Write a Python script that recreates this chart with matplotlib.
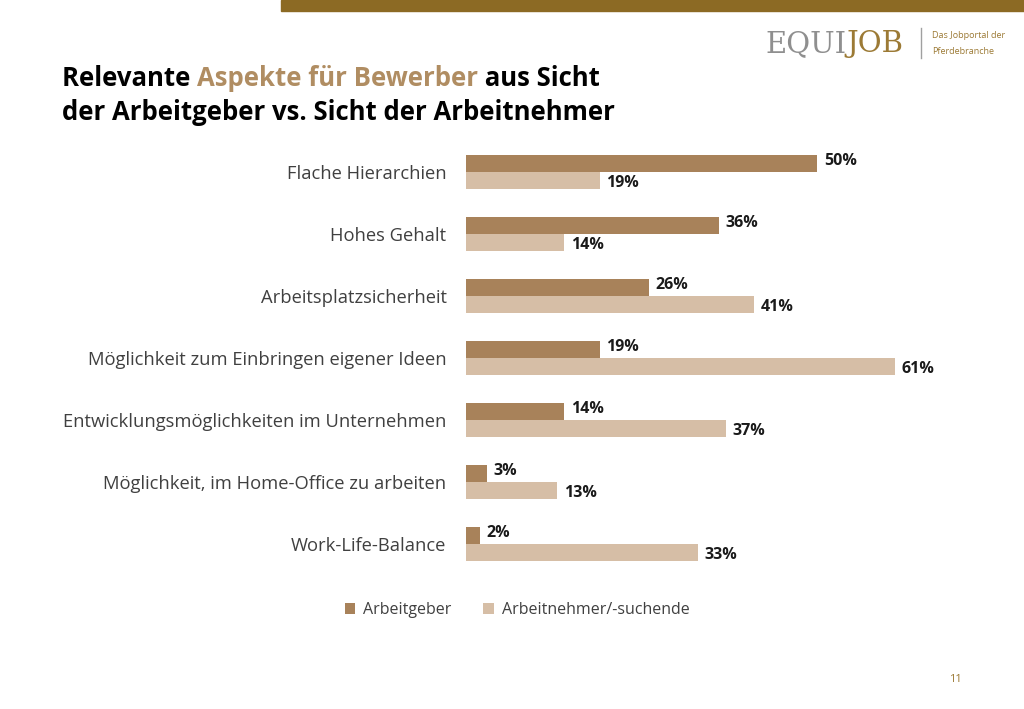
import matplotlib.pyplot as plt
from matplotlib.patches import Rectangle

categories = ['Flache Hierarchien', 'Hohes Gehalt', 'Arbeitsplatzsicherheit',
              'Möglichkeit zum Einbringen eigener Ideen',
              'Entwicklungsmöglichkeiten im Unternehmen',
              'Möglichkeit, im Home-Office zu arbeiten', 'Work-Life-Balance']
arbeitgeber = [50, 36, 26, 19, 14, 3, 2]
arbeitnehmer = [19, 14, 41, 61, 37, 13, 33]
series_names = ['Arbeitgeber', 'Arbeitnehmer/-suchende']

dark = '#A8825A'
light = '#D6BEA6'
gold = '#8C6A24'
font = 'Open Sans'

W, H = 1024, 709
fig = plt.figure(figsize=(W / 100, H / 100), dpi=100)
r = fig.canvas.get_renderer()

# top stripe
fig.patches.append(Rectangle((281 / W, 1 - 11 / H), 1 - 281 / W, 11 / H,
                             transform=fig.transFigure, color=gold, zorder=0))

# logo
l1 = fig.text(765 / W, 1 - 44 / H, 'EQUI', family='DejaVu Serif', fontsize=21,
              color='#8F8F8F', va='center', ha='left')
x = l1.get_window_extent(r).x1
fig.text(x / W, 1 - 44 / H, 'JOB', family='DejaVu Serif', fontsize=21,
         color='#9C7A35', va='center', ha='left')
fig.add_artist(plt.Line2D([921 / W, 921 / W], [1 - 28 / H, 1 - 58 / H],
                          color='#A0A0A0', lw=1))
fig.text(932 / W, 1 - 35 / H, 'Das Jobportal der', family=font, fontsize=6.5,
         color='#9C7A35', va='center')
fig.text(932 / W, 1 - 51 / H, 'Pferdebranche', family=font, fontsize=6.5,
         color='#9C7A35', va='center')

# title
ts = 18.5
t1 = fig.text(62 / W, 1 - 78 / H, 'Relevante ', family=font, fontsize=ts,
              weight='bold', color='black', va='center')
x = t1.get_window_extent(r).x1
t2 = fig.text(x / W, 1 - 78 / H, 'Aspekte für Bewerber', family=font, fontsize=ts,
              weight='bold', color='#B08D62', va='center')
x = t2.get_window_extent(r).x1
fig.text(x / W, 1 - 78 / H, ' aus Sicht', family=font, fontsize=ts,
         weight='bold', color='black', va='center')
fig.text(62 / W, 1 - 113 / H, 'der Arbeitgeber vs. Sicht der Arbeitnehmer',
         family=font, fontsize=ts, weight='bold', color='black', va='center')

# chart
ax = fig.add_axes([466 / W, 1 - 575 / H, 492 / W, 434 / H])
ypos = list(range(len(categories)))
h = 0.28
ax.barh([y - h / 2 for y in ypos], arbeitgeber, height=h, color=dark, label=series_names[0])
ax.barh([y + h / 2 for y in ypos], arbeitnehmer, height=h, color=light, label=series_names[1])
for y, v in zip(ypos, arbeitgeber):
    ax.text(v + 0.9, y - h / 2 - 0.04, f'{v}%', va='center', ha='left',
            family=font, fontsize=11.5, weight='bold', color='#1a1a1a')
for y, v in zip(ypos, arbeitnehmer):
    ax.text(v + 0.9, y + h / 2 + 0.04, f'{v}%', va='center', ha='left',
            family=font, fontsize=11.5, weight='bold', color='#1a1a1a')

ax.set_xlim(0, 70)
ax.set_ylim(6.5, -0.5)
ax.set_yticks(ypos)
ax.set_yticklabels(categories, family=font, fontsize=13.2, color='#404040')
ax.tick_params(axis='y', length=0, pad=14)
ax.set_xticks([])
for s in ax.spines.values():
    s.set_visible(False)

fig.legend(loc='center', bbox_to_anchor=(517 / W, 1 - 610 / H), ncol=2, frameon=False,
           handlelength=0.65, handleheight=0.65, handletextpad=0.5, columnspacing=2.0,
           prop={'family': font, 'size': 11.5}, labelcolor='#404040')

fig.text(955 / W, 1 - 680 / H, '11', family=font, fontsize=8, color='#9C7A35',
         ha='center', va='center')

fig.savefig('out.png', dpi=100, facecolor='white')
